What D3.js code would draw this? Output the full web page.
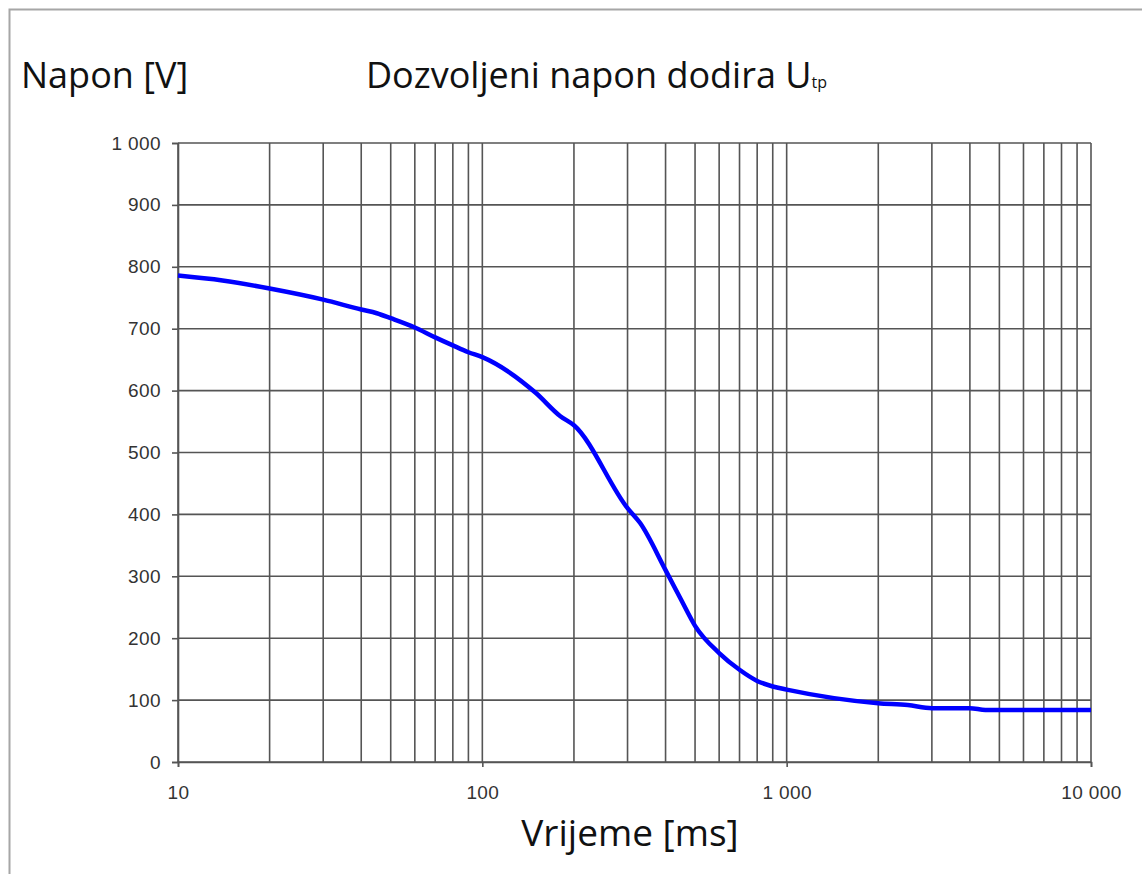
<!DOCTYPE html>
<html>
<head>
<meta charset="utf-8">
<script src="https://cdn.jsdelivr.net/npm/d3@7"></script>
<style>
	body { margin: 0; background: #fff; }
	svg { display: block; }
</style>
</head>
<body>
<div id="chart"></div>
<script>
	// time [ms] and allowed touch voltage [V]
	const times = [10, 14, 20, 30, 40, 45, 50, 60, 70, 80, 90, 100, 150, 180, 200, 300, 330, 400, 450, 500, 600, 700, 800, 900, 1000, 2000, 2500, 3000, 4000, 4500, 10000];
	const volts = [786, 778, 765, 747, 731, 725, 717, 702, 686, 673, 662, 654, 596, 559, 544, 410, 386, 310, 262, 220, 176, 149, 131, 122, 117, 95, 92, 87, 87, 84, 84];

	const yTicks = [0, 100, 200, 300, 400, 500, 600, 700, 800, 900, 1000];
	const xTicks = [10, 100, 1000, 10000];

	const width = 1142, height = 874;
	const margin = { left: 178, right: 51, top: 143, bottom: 112 };

	const loc = d3.formatLocale({ decimal: ",", thousands: " ", grouping: [3], currency: ["", ""] });
	const fmt = loc.format(",d");

	const svg = d3.select("#chart")
		.append("svg")
		.attr("width", width)
		.attr("height", height);

	// outer frame (only top and left visible)
	svg.append("path")
		.attr("d", `M9.5,${height} V9.5 H${width}`)
		.attr("fill", "none")
		.attr("stroke", "#a6a6a6")
		.attr("stroke-width", 2);

	const x = d3.scaleLog()
		.domain([10, 10000])
		.range([margin.left, width - margin.right]);

	const y = d3.scaleLinear()
		.domain([0, 1000])
		.range([height - margin.bottom, margin.top]);

	// minor log grid: 1..9 x each decade
	const gridX = [];
	for (let d = 10; d < 10000; d *= 10) {
		for (let k = 1; k < 10; k++) gridX.push(d * k);
	}
	gridX.push(10000);

	const grid = svg.append("g")
		.attr("stroke", "#555")
		.attr("stroke-width", 1.6);

	grid.selectAll("line.v")
		.data(gridX)
		.join("line")
		.attr("class", "v")
		.attr("x1", (d) => x(d))
		.attr("x2", (d) => x(d))
		.attr("y1", y(1000))
		.attr("y2", y(0));

	grid.selectAll("line.h")
		.data(yTicks)
		.join("line")
		.attr("class", "h")
		.attr("x1", x(10))
		.attr("x2", x(10000))
		.attr("y1", (d) => y(d))
		.attr("y2", (d) => y(d));

	// axes
	const yAxis = svg.append("g")
		.attr("transform", `translate(${margin.left},0)`)
		.call(d3.axisLeft(y).tickValues(yTicks).tickSize(6).tickPadding(11).tickFormat(fmt));

	const xAxis = svg.append("g")
		.attr("transform", `translate(0,${height - margin.bottom})`)
		.call(d3.axisBottom(x).tickValues(xTicks).tickSize(5).tickPadding(11).tickFormat(fmt));

	[yAxis, xAxis].forEach((a) => {
		a.attr("font-size", 19).attr("font-family", "Liberation Sans, Arial, sans-serif");
		a.select(".domain").attr("stroke", "#555").attr("stroke-width", 1.6);
		a.selectAll(".tick line").attr("stroke", "#555").attr("stroke-width", 1.6);
		a.selectAll("text")
			.attr("font-size", 19)
			.attr("letter-spacing", 0.4)
			.attr("fill", "#333");
	});
	xAxis.selectAll("text").attr("dy", "1.1em");

	// curve
	const line = d3.line()
		.x((d, i) => x(times[i]))
		.y((d) => y(d))
		.curve(d3.curveMonotoneX);

	svg.append("path")
		.datum(volts)
		.attr("d", line)
		.attr("fill", "none")
		.attr("stroke", "#0000ff")
		.attr("stroke-width", 4.5)
		.attr("stroke-linejoin", "round");

	// titles
	const font = "Open Sans, Lato, sans-serif";

	svg.append("text")
		.attr("x", 21)
		.attr("y", 88)
		.attr("font-family", font)
		.attr("font-size", 36)
		.attr("fill", "#111")
		.text("Napon [V]");

	const title = svg.append("text")
		.attr("x", 366)
		.attr("y", 88)
		.attr("font-family", font)
		.attr("font-size", 36)
		.attr("fill", "#111")
		.text("Dozvoljeni napon dodira U");
	title.append("tspan")
		.attr("font-size", 16)
		.text("tp");

	svg.append("text")
		.attr("x", 630)
		.attr("y", 846)
		.attr("text-anchor", "middle")
		.attr("font-family", font)
		.attr("font-size", 37)
		.attr("fill", "#111")
		.text("Vrijeme [ms]");
</script>
</body>
</html>
